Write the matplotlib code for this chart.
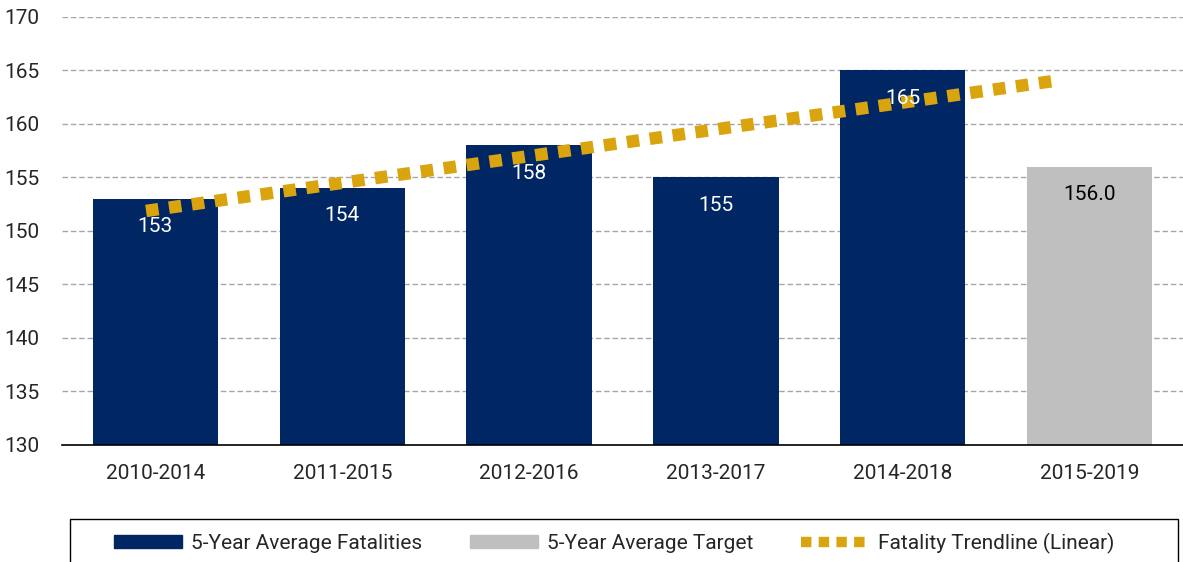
import numpy as np
import matplotlib.pyplot as plt
from matplotlib.patches import Patch, Rectangle
from matplotlib.lines import Line2D

plt.rcParams['font.family'] = ['Roboto', 'DejaVu Sans']

# data
periods = ['2010-2014', '2011-2015', '2012-2016', '2013-2017', '2014-2018', '2015-2019']
fatalities = [153, 154, 158, 155, 165]
target = 156.0

navy = '#002663'
grey = '#BFBFBF'
gold = '#D9A40E'
fs = 15

fig = plt.figure(figsize=(11.83, 5.62), dpi=100)
ax = fig.add_axes([62/1183, 1 - 445/562, 1 - 62/1183, (445 - 17)/562])

x = np.arange(len(periods))
bw = 0.67
ax.bar(x[:5], fatalities, width=bw, color=navy, zorder=2)
ax.bar(x[5], target, width=bw, color=grey, zorder=2)

# linear trendline fitted to the five actual values
k, b = np.polyfit(x[:5], fatalities, 1)
tx = np.array([-0.05, 4.85])
ax.plot(tx, k*tx + b, color=gold, lw=9, linestyle=(0, (1, 0.85)),
        dash_capstyle='butt', zorder=3)

# value labels
for xi, v in zip(x[:5], fatalities):
    ax.annotate(f'{v}', (xi, v), xytext=(0, -20), textcoords='offset points',
                ha='center', va='center', color='white', fontsize=fs, zorder=4)
ax.annotate(f'{target:.1f}', (x[5], target), xytext=(0, -20), textcoords='offset points',
            ha='center', va='center', color='black', fontsize=fs, zorder=4)

ax.set_ylim(130, 170)
ax.set_xlim(-0.5, 5.5)
ax.set_yticks(range(130, 171, 5))
ax.set_xticks(x)
ax.set_xticklabels(periods)
ax.tick_params(axis='both', length=0, labelsize=fs, colors='#262626')
ax.tick_params(axis='y', pad=16)
ax.tick_params(axis='x', pad=14)
ax.yaxis.grid(True, color='#A6A6A6', linestyle=(0, (4, 2)), lw=1)
ax.set_axisbelow(True)
for s in ['top', 'right', 'left']:
    ax.spines[s].set_visible(False)
ax.spines['bottom'].set_color('black')
ax.spines['bottom'].set_linewidth(1.2)

# legend frame (runs off the bottom edge like the original)
fig.patches.append(Rectangle((70/1183, -0.05), 1108/1183, 0.05 + 1 - 519/562,
                             transform=fig.transFigure, fill=False,
                             edgecolor='black', lw=1))
handles = [Patch(color=navy, label='5-Year Average Fatalities'),
           Patch(color=grey, label='5-Year Average Target'),
           Line2D([0], [0], color=gold, lw=7.5, linestyle=(0, (1, 0.7)),
                  dash_capstyle='butt', label='Fatality Trendline (Linear)')]
fig.legend(handles=handles, loc='center', ncol=3,
           bbox_to_anchor=(614/1183, 1 - 543/562),
           frameon=False, fontsize=fs, handlelength=3.3, handleheight=0.6,
           handletextpad=0.4, columnspacing=2.3, labelcolor='#262626')

fig.savefig('out.png', dpi=100)
